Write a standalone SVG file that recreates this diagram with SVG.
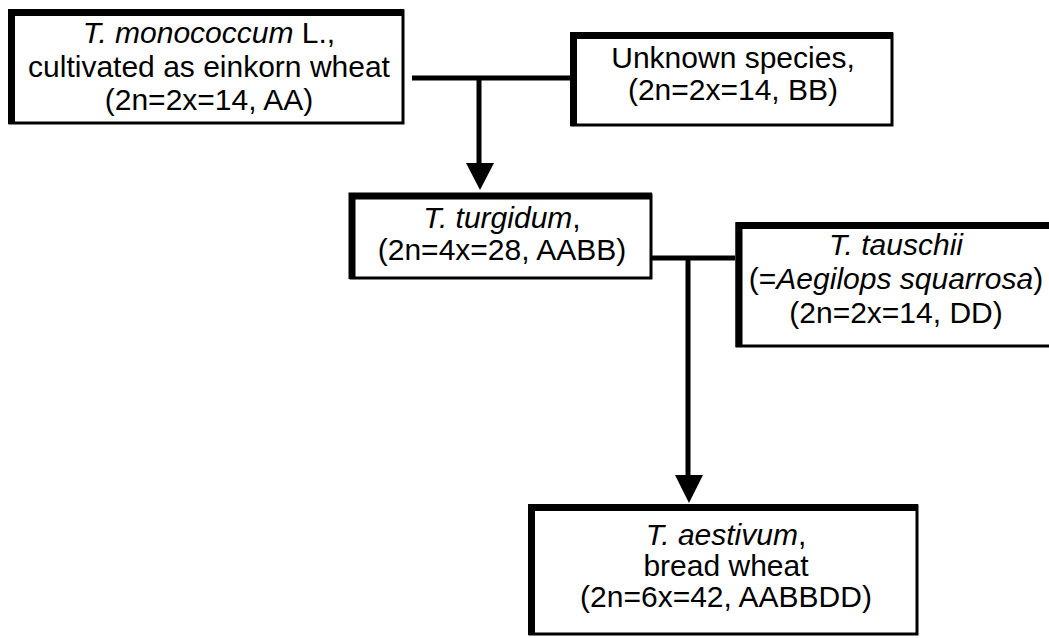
<svg xmlns="http://www.w3.org/2000/svg" width="1049" height="638" viewBox="0 0 1049 638">
<style>
.box{fill:#fff;stroke:#000;stroke-width:3}
.thick{fill:none;stroke:#000;stroke-width:7}
.t{font-family:"Liberation Sans",Arial,sans-serif;font-size:30px;fill:#000;text-anchor:middle}
.i{font-style:italic}
.ln{fill:none;stroke:#000;stroke-width:5}
</style>
<rect width="1049" height="638" fill="#fff"/>
<g id="connectors">
<path class="ln" d="M412 78 H570 M479 78 V166"/>
<polygon points="466,163 494,163 480,190" fill="#000"/>
<path class="ln" d="M652 258 H735 M688 258 V478"/>
<polygon points="675,475 703,475 689,503" fill="#000"/>
</g>
<g id="monococcum">
<rect class="box" x="10" y="11" width="393" height="112"/>
<path class="thick" d="M11.5 124 V12.5 H404"/>
<text class="t" x="209" y="43"><tspan class="i">T. monococcum</tspan> L.,</text>
<text class="t" x="209" y="77">cultivated as einkorn wheat</text>
<text class="t" x="209" y="110">(2n=2x=14, AA)</text>
</g>
<g id="unknown">
<rect class="box" x="572" y="34" width="320" height="91"/>
<path class="thick" d="M573.5 126 V35.5 H893"/>
<text class="t" x="733" y="68">Unknown species,</text>
<text class="t" x="733" y="100">(2n=2x=14, BB)</text>
</g>
<g id="turgidum">
<rect class="box" x="351" y="195" width="300" height="83"/>
<path class="thick" d="M352 279 V196 H652"/>
<text class="t" x="502" y="228"><tspan class="i">T. turgidum</tspan>,</text>
<text class="t" x="502" y="260">(2n=4x=28, AABB)</text>
</g>
<g id="tauschii">
<rect class="box" x="737" y="224" width="330" height="122"/>
<path class="thick" d="M739 347 V225.5 H1060"/>
<text class="t" x="896" y="255"><tspan class="i">T. tauschii</tspan></text>
<text class="t" x="896" y="289">(=<tspan class="i">Aegilops squarrosa</tspan>)</text>
<text class="t" x="896" y="323">(2n=2x=14, DD)</text>
</g>
<g id="aestivum">
<rect class="box" x="530" y="506" width="387" height="128"/>
<path class="thick" d="M531.5 635 V507.5 H918"/>
<text class="t" x="726" y="545"><tspan class="i">T. aestivum</tspan>,</text>
<text class="t" x="726" y="576">bread wheat</text>
<text class="t" x="726" y="607">(2n=6x=42, AABBDD)</text>
</g>
</svg>
